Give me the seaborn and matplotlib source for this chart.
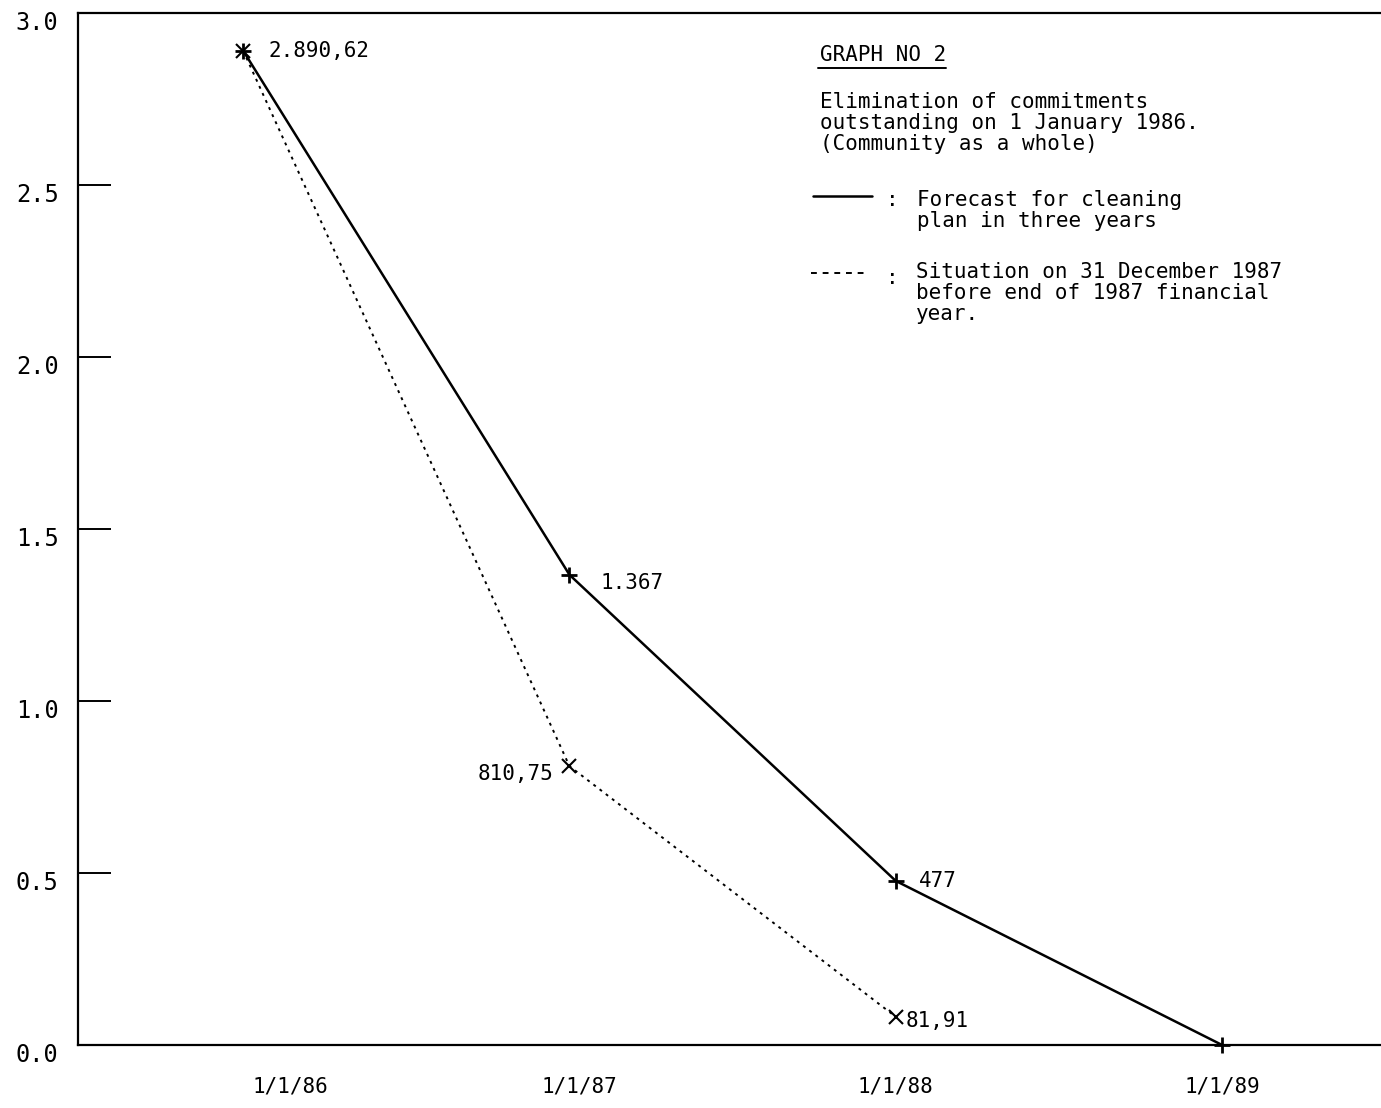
import numpy as np
import pandas as pd
import matplotlib.pyplot as plt
import matplotlib.transforms as mtransforms
import seaborn as sns

# data (thousand million ECU)
dates = ["1/1/86", "1/1/87", "1/1/88", "1/1/89"]
forecast = [2.89062, 1.367, 0.477, 0.0]
situation = [2.89062, 0.81075, 0.08191]
forecast_labels = ["2.890,62", "1.367", "477", ""]
situation_labels = ["", "810,75", "81,91"]
y_ticks = [0.0, 0.5, 1.0, 1.5, 2.0, 2.5, 3.0]
y_tick_labels = ["0.0", "0.5", "1.0", "1.5", "2.0", "2.5", "3.0"]

df_fc = pd.DataFrame({"x": np.arange(len(forecast)), "y": forecast})
df_st = pd.DataFrame({"x": np.arange(len(situation)), "y": situation})

sns.set_style("white")
plt.rcParams["font.family"] = ["DejaVu Sans Mono"]
plt.rcParams["text.color"] = "black"

W, H = 1381, 1108
fig = plt.figure(figsize=(W / 100, H / 100), dpi=100)
ax = fig.add_axes([78 / W, 63 / H, 1 - 78 / W, 1032 / H])

sns.lineplot(data=df_fc, x="x", y="y", ax=ax, color="black", lw=1.8,
             marker="+", markersize=12, markeredgewidth=2.0,
             markeredgecolor="black", clip_on=False)
sns.lineplot(data=df_st, x="x", y="y", ax=ax, color="black", lw=1.4,
             linestyle=(0, (1.5, 2.5)), marker="x", markersize=10,
             markeredgewidth=1.5, markeredgecolor="black", clip_on=False)

ax.set_xlim(-0.506, 3.487)
ax.set_ylim(0, 3.0)

# point labels
fc_offsets = [(25, 0), (31, -8), (23, 0), (0, 0)]
for i, (v, t) in enumerate(zip(forecast, forecast_labels)):
    if t:
        ax.annotate(t, (i, v), xytext=fc_offsets[i], textcoords="offset pixels",
                    ha="left", va="center", fontsize=15, color="black")
st_offsets = [(0, 0), (-16, -8), (10, -4)]
st_ha = ["left", "right", "left"]
for i, (v, t) in enumerate(zip(situation, situation_labels)):
    if t:
        ax.annotate(t, (i, v), xytext=st_offsets[i], textcoords="offset pixels",
                    ha=st_ha[i], va="center", fontsize=15, color="black")

# axes styling
ax.spines["right"].set_visible(False)
for s in ["left", "top", "bottom"]:
    ax.spines[s].set_linewidth(1.6)
    ax.spines[s].set_color("black")

ax.set_yticks(y_ticks)
ax.set_yticklabels(y_tick_labels, fontsize=17)
ax.tick_params(axis="y", left=True, direction="in", length=24, width=1.4,
               pad=14, colors="black")
for lab in ax.get_yticklabels():
    lab.set_transform(lab.get_transform() +
                      mtransforms.ScaledTranslation(0, -0.08, fig.dpi_scale_trans))

ax.set_xticks([0.144, 1.03, 2.0, 3.0])
ax.set_xticklabels(dates, fontsize=15)
ax.tick_params(axis="x", length=0, pad=23, colors="black")
ax.set_xlabel("")
ax.set_ylabel("")
ax.grid(False)


def fx(x):
    return x / W


def fy(y):
    return 1 - y / H


# title block / legend
fig.text(fx(820), fy(55), "GRAPH NO 2", fontsize=15, ha="left", va="center")
fig.add_artist(plt.Line2D([fx(818), fx(946)], [fy(68), fy(68)], color="black", lw=1.4))
fig.text(fx(820), fy(92),
         "Elimination of commitments\noutstanding on 1 January 1986.\n(Community as a whole)",
         fontsize=15, ha="left", va="top", linespacing=1.05)
fig.add_artist(plt.Line2D([fx(813), fx(872)], [fy(196), fy(196)], color="black", lw=1.8))
fig.text(fx(886), fy(200), ":", fontsize=15, ha="left", va="center")
fig.text(fx(917), fy(190), "Forecast for cleaning\nplan in three years",
         fontsize=15, ha="left", va="top", linespacing=1.05)
fig.add_artist(plt.Line2D([fx(811), fx(868)], [fy(273), fy(273)], color="black", lw=1.4,
                          linestyle=(0, (3, 3))))
fig.text(fx(886), fy(278), ":", fontsize=15, ha="left", va="center")
fig.text(fx(916), fy(262), "Situation on 31 December 1987\nbefore end of 1987 financial\nyear.",
         fontsize=15, ha="left", va="top", linespacing=1.05)

fig.savefig("out.png", dpi=100, facecolor="white")
